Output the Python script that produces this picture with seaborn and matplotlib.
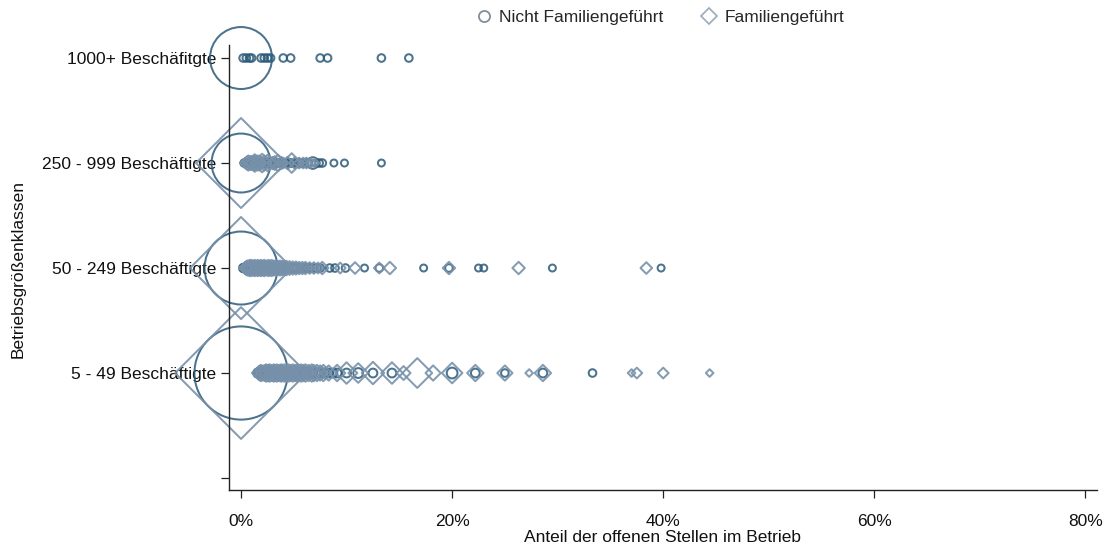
import matplotlib
matplotlib.use("Agg")
import matplotlib.pyplot as plt
from matplotlib.lines import Line2D
from matplotlib.ticker import FuncFormatter
import seaborn as sns
import pandas as pd

# Betriebsgrößenklassen (y-Positionen 4..1, Position 0 bleibt leer)
klassen = ["1000+ Beschäfitgte", "250 - 999 Beschäftigte",
           "50 - 249 Beschäftigte", "5 - 49 Beschäftigte"]
klassen_pos = [4, 3, 2, 1]
gruppen = ["Nicht Familiengeführt", "Familiengeführt"]

# Anteil offener Stellen (%) und Gewicht (Anzahl Betriebe) je Klasse und Gruppe
nf_1000_x = [0, 0.2, 0.5, 0.8, 1.0, 1.9, 2.2, 2.5, 2.8, 4.0, 4.7, 7.5, 8.2, 13.3, 15.9]
nf_1000_w = [1990, 30, 30, 30, 30, 30, 30, 30, 30, 30, 30, 30, 30, 30, 30]

nf_250_x = [0,
            0.3, 0.5, 0.7, 0.9, 1.1, 1.3, 1.5, 1.7, 1.9, 2.1,
            2.3, 2.5, 2.7, 2.9, 3.1, 3.3, 3.6, 3.9, 4.2, 4.5,
            4.8, 5.1, 5.4, 5.7, 6.0, 6.3, 6.8, 7.1, 7.4, 7.7,
            8.8, 9.8, 13.3]
nf_250_w = [1800,
            30, 35, 30, 35, 30, 35, 30, 35, 30, 35,
            30, 35, 30, 35, 30, 35, 30, 35, 30, 35,
            30, 35, 30, 35, 30, 35, 70, 30, 30, 30,
            25, 25, 25]
fa_250_x = [0,
            0.4, 0.6, 0.7, 0.9, 1.0, 1.2, 1.3, 1.5, 1.7, 1.8,
            2.0, 2.2, 2.5, 2.7, 3.0, 3.2, 3.5, 3.8, 4.0, 4.4,
            4.8, 5.1, 5.5, 5.9, 6.2, 6.6, 7.0]
fa_250_w = [2100,
            30, 50, 60, 50, 50, 60, 80, 60, 60, 50,
            90, 60, 70, 50, 40, 50, 70, 40, 30, 40,
            100, 35, 30, 30, 30, 25, 20]

nf_50_x = [0,
           0.2, 0.3, 0.4, 0.5, 0.6, 0.7, 0.8, 0.9, 1.0, 1.1,
           1.2, 1.4, 1.5, 1.6, 1.8, 1.9, 2.0, 2.2, 2.3, 2.5,
           2.6, 2.8, 3.0, 3.2, 3.3, 3.5, 3.7, 3.9, 4.1, 4.3,
           4.5, 4.8, 5.0, 5.3, 5.6, 5.9, 6.2, 6.5, 6.9, 7.2,
           7.5, 8.4, 8.9, 9.9, 11.7, 13.1, 17.3, 19.7, 22.5, 23.0,
           29.5, 39.8]
nf_50_w = [2760,
           35, 40, 45, 50, 45, 50, 45, 50, 45, 50,
           45, 50, 45, 50, 45, 50, 45, 50, 45, 50,
           45, 50, 45, 50, 45, 45, 40, 45, 40, 45,
           40, 40, 35, 40, 35, 35, 30, 35, 30, 30,
           30, 30, 30, 30, 25, 30, 25, 30, 25, 25,
           25, 25]
fa_50_x = [0,
           0.4, 0.5, 0.6, 0.8, 0.9, 1.0, 1.2, 1.3, 1.5, 1.6,
           1.8, 1.9, 2.1, 2.2, 2.4, 2.6, 2.7, 2.9, 3.1, 3.3,
           3.5, 3.7, 3.9, 4.1, 4.3, 4.6, 4.9, 5.2, 5.5, 5.8,
           6.1, 6.5, 6.9, 7.3, 7.7,
           9.4, 10.8, 13.1, 14.1, 19.7, 26.3, 38.4]
fa_50_w = [2700,
           40, 50, 60, 70, 60, 70, 60, 70, 60, 70,
           60, 70, 60, 70, 60, 70, 60, 70, 60, 60,
           55, 60, 55, 50, 55, 50, 45, 45, 40, 40,
           40, 35, 35, 30, 40,
           30, 35, 30, 40, 40, 40, 35]

nf_5_x = [0,
          1.6, 1.7, 1.8, 2.0, 2.1, 2.2, 2.4, 2.5, 2.6, 2.8,
          2.9, 3.0, 3.2, 3.3, 3.4, 3.6, 3.7, 3.8, 4.0, 4.2,
          4.3, 4.5, 4.7, 4.8, 5.0, 5.2, 5.4, 5.6, 5.8, 6.0,
          6.2, 6.5, 6.7, 7.0, 7.3, 7.6, 7.9, 8.3, 8.7, 9.1,
          10.0, 11.1, 12.5, 14.3, 20.0, 22.2, 25.0, 28.6, 33.3]
nf_5_w = [4600,
          45, 50, 55, 50, 55, 60, 55, 60, 55, 60,
          55, 60, 55, 60, 55, 60, 55, 60, 55, 60,
          55, 60, 55, 60, 55, 50, 55, 50, 55, 50,
          45, 50, 45, 50, 45, 40, 45, 40, 40, 40,
          40, 50, 40, 40, 60, 40, 30, 40, 30]
fa_5_x = [0,
          1.7, 1.8, 1.9, 2.1, 2.3, 2.4, 2.6, 2.7, 2.9, 3.1,
          3.2, 3.4, 3.6, 3.8, 3.9, 4.1, 4.3, 4.5, 4.7, 4.9,
          5.1, 5.3, 5.5, 5.7, 5.9, 6.1, 6.4, 6.7, 6.9, 7.2,
          7.5, 7.8,
          8.3, 9.1, 10.0, 11.1, 12.5, 14.3, 15.4, 16.7, 18.2, 20.0,
          22.2, 25.0, 27.3, 28.6, 37.0, 37.5, 40.0, 44.4]
fa_5_w = [4500,
          50, 60, 70, 60, 70, 80, 70, 80, 70, 80,
          70, 80, 70, 80, 70, 80, 70, 80, 70, 80,
          70, 80, 70, 80, 70, 80, 70, 80, 70, 70,
          60, 70,
          60, 70, 120, 100, 130, 120, 50, 230, 60, 110,
          70, 60, 15, 70, 15, 30, 30, 15]

reihen = [
    (klassen[0], gruppen[0], nf_1000_x, nf_1000_w),
    (klassen[1], gruppen[0], nf_250_x, nf_250_w),
    (klassen[1], gruppen[1], fa_250_x, fa_250_w),
    (klassen[2], gruppen[0], nf_50_x, nf_50_w),
    (klassen[2], gruppen[1], fa_50_x, fa_50_w),
    (klassen[3], gruppen[0], nf_5_x, nf_5_w),
    (klassen[3], gruppen[1], fa_5_x, fa_5_w),
]
pos = dict(zip(klassen, klassen_pos))
rows = []
for kl, gr, xs, ws in reihen:
    assert len(xs) == len(ws)
    for xv, wv in zip(xs, ws):
        rows.append({"klasse": kl, "y": pos[kl], "gruppe": gr,
                     "anteil": xv, "gewicht": wv})
df = pd.DataFrame(rows)

sns.set_theme(style="white")
plt.rcParams["font.family"] = ["Liberation Sans Narrow", "Liberation Sans", "DejaVu Sans"]

farbe_nf = "#2c5a79"
farbe_fa = "#7891aa"

fig = plt.figure(figsize=(11.07, 5.5), dpi=100)
ax = fig.add_axes([229 / 1107, 1 - 490 / 550, (1097 - 229) / 1107, (490 - 45) / 550])

# Kreise (nicht familiengeführt) zuerst, darüber die Rauten
sns.scatterplot(data=df[df.gruppe == gruppen[0]], x="anteil", y="y",
                size="gewicht", sizes=(0, 4500), size_norm=(0, 4500),
                marker="o", facecolor="none", edgecolor=farbe_nf,
                linewidth=1.45, alpha=0.85, legend=False, clip_on=False, ax=ax)
sns.scatterplot(data=df[df.gruppe == gruppen[1]], x="anteil", y="y",
                size="gewicht", sizes=(0, 4500), size_norm=(0, 4500),
                marker="D", facecolor="none", edgecolor=farbe_fa,
                linewidth=1.45, alpha=0.9, legend=False, clip_on=False, ax=ax)

ax.set_xlim(-1.14, 81.1)
ax.set_ylim(-0.114, 4.124)
ax.set_xticks([0, 20, 40, 60, 80])
ax.xaxis.set_major_formatter(FuncFormatter(lambda v, p: f"{v:.0f}%"))
ax.set_yticks([0] + klassen_pos)
ax.set_yticklabels([""] + klassen)
for s in ["top", "right"]:
    ax.spines[s].set_visible(False)
for s in ["left", "bottom"]:
    ax.spines[s].set_color("#222222")
    ax.spines[s].set_linewidth(1.0)
ax.tick_params(axis="both", which="major", direction="out", length=6,
               width=0.9, color="#222222", labelsize=12.5, labelcolor="#111111",
               pad=3, bottom=True, left=True)
ax.tick_params(axis="x", pad=11)
ax.set_xlabel("Anteil der offenen Stellen im Betrieb", fontsize=12.5,
              color="#111111", labelpad=1)
ax.set_ylabel("")
fig.text(0.016, 0.51, "Betriebsgrößenklassen", rotation=90, ha="center",
         va="center", fontsize=12.5, color="#111111")

handles = [
    Line2D([], [], marker="o", linestyle="none", markersize=8,
           markerfacecolor="none", markeredgecolor="#7d8f9f", markeredgewidth=1.3),
    Line2D([], [], marker="D", linestyle="none", markersize=8,
           markerfacecolor="none", markeredgecolor="#9fb0c2", markeredgewidth=1.3),
]
fig.legend(handles, gruppen, loc="center", bbox_to_anchor=(0.595, 0.968),
           ncol=2, frameon=False, fontsize=12.5, handletextpad=0.3,
           columnspacing=2.0, handlelength=1.2)

fig.savefig("out.png", dpi=100)
